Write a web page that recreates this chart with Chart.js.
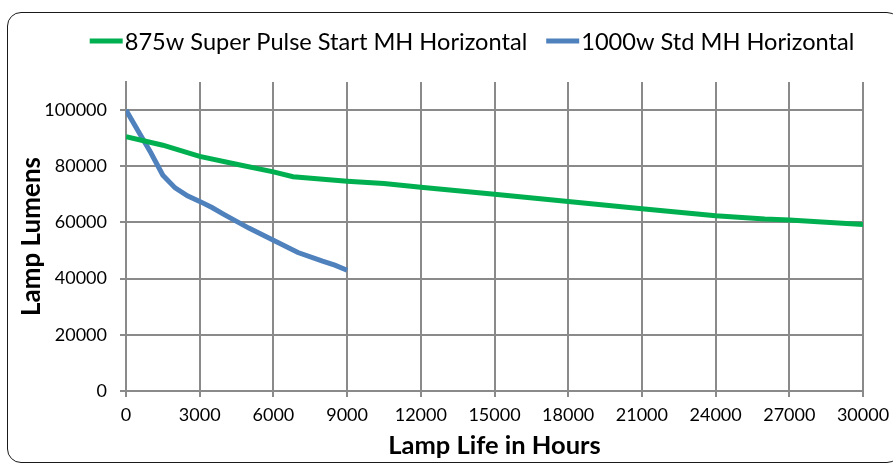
<!DOCTYPE html>
<html>
<head>
<meta charset="utf-8">
<script src="https://cdn.jsdelivr.net/npm/chart.js@4/dist/chart.umd.min.js"></script>
<style>
  html, body { margin: 0; padding: 0; background: #fff; }
  #wrap { position: relative; width: 893px; height: 466px; overflow: hidden; }
  #frame { position: absolute; left: 7px; top: 12px; width: 894px; height: 451px;
           border: 1.4px solid #1a1a1a; border-radius: 14px; box-sizing: border-box; }
  canvas { position: absolute; left: 0; top: 0; }
</style>
</head>
<body>
<div id="wrap">
  <div id="frame"></div>
  <canvas id="c" width="893" height="466"></canvas>
</div>
<script>
// ---- data ----
const seriesNames = ["875w Super Pulse Start MH Horizontal", "1000w Std MH Horizontal"];
const hoursGreen  = [0, 1500, 3000, 4500, 6000, 6800, 9000, 10500, 12000, 15000, 18000, 21000, 24000, 26000, 27000, 30000];
const lumensGreen = [90500, 87500, 83500, 80700, 78000, 76300, 74700, 73900, 72500, 70000, 67500, 64900, 62400, 61200, 60900, 59300];
const hoursBlue   = [0, 500, 1000, 1500, 2000, 2500, 3000, 3500, 4000, 5000, 6000, 7000, 8000, 8500, 9000];
const lumensBlue  = [100000, 92500, 85000, 76800, 72300, 69500, 67500, 65300, 62800, 58000, 53700, 49300, 46200, 44800, 43000];
const xTickValues = [0, 3000, 6000, 9000, 12000, 15000, 18000, 21000, 24000, 27000, 30000];
const yTickValues = [0, 20000, 40000, 60000, 80000, 100000];
const xTitle = "Lamp Life in Hours";
const yTitle = "Lamp Lumens";
const xMax = 30000, yMax = 110000;

const toPoints = (xs, ys) => xs.map((x, i) => ({ x: x, y: ys[i] }));

const FONT = "Lato, 'Open Sans', sans-serif";
const gridColor = "#8a8a8a";

const customLegend = {
  id: 'customLegend',
  afterDraw(chart) {
    const ctx = chart.ctx;
    ctx.save();
    ctx.font = "23.6px " + FONT;
    ctx.textBaseline = "middle";
    const boxW = 33, gap = 2, sep = 19, cy = 41;
    const items = chart.data.datasets.map(ds => ({ text: ds.label, color: ds.borderColor, w: ctx.measureText(ds.label).width }));
    const total = items.reduce((a, it) => a + boxW + gap + it.w, 0) + sep * (items.length - 1);
    let x = 472 - total / 2;
    items.forEach(it => {
      ctx.fillStyle = it.color;
      ctx.fillRect(x, cy - 2.5, boxW, 5);
      x += boxW + gap;
      ctx.fillStyle = "#000";
      ctx.fillText(it.text, x, cy + 1);
      x += it.w + sep;
    });
    ctx.restore();
  }
};

new Chart(document.getElementById('c'), {
  type: 'line',
  data: {
    datasets: [
      { label: seriesNames[0], data: toPoints(hoursGreen, lumensGreen), borderColor: '#00b050', backgroundColor: '#00b050',
        borderWidth: 5, pointRadius: 0, tension: 0, fill: false },
      { label: seriesNames[1], data: toPoints(hoursBlue, lumensBlue), borderColor: '#4f81bd', backgroundColor: '#4f81bd',
        borderWidth: 5, pointRadius: 0, tension: 0, fill: false }
    ]
  },
  options: {
    responsive: false,
    animation: false,
    devicePixelRatio: 1,
    layout: { padding: { left: 0, right: 0, top: 82, bottom: 0 } },
    plugins: { legend: { display: false }, tooltip: { enabled: false } },
    scales: {
      x: {
        type: 'linear', min: 0, max: xMax,
        afterBuildTicks: s => { s.ticks = xTickValues.map(v => ({ value: v })); },
        afterFit: s => { s.height = 75; s.paddingRight = 30; },
        grid: { color: gridColor, lineWidth: 2, tickLength: 6, tickColor: gridColor },
        border: { color: gridColor, width: 2 },
        ticks: { color: '#000', font: { family: FONT, size: 18 }, padding: 7, maxRotation: 0, autoSkip: false,
                 callback: v => String(v) },
        title: { display: true, text: xTitle, color: '#000', font: { family: FONT, size: 25.5, weight: 'bold' },
                 padding: { top: 0, bottom: 5 } }
      },
      y: {
        type: 'linear', min: 0, max: yMax,
        afterBuildTicks: s => { s.ticks = yTickValues.map(v => ({ value: v })); },
        afterFit: s => { s.width = 126; },
        grid: { color: gridColor, lineWidth: 2, tickLength: 6, tickColor: gridColor },
        border: { color: gridColor, width: 2 },
        ticks: { color: '#000', font: { family: FONT, size: 18 }, padding: 13, autoSkip: false,
                 callback: v => String(v) },
        title: { display: true, text: yTitle, color: '#000', font: { family: FONT, size: 26, weight: 'bold' },
                 padding: { top: 16, bottom: 0 } }
      }
    }
  },
  plugins: [customLegend]
});
</script>
</body>
</html>
